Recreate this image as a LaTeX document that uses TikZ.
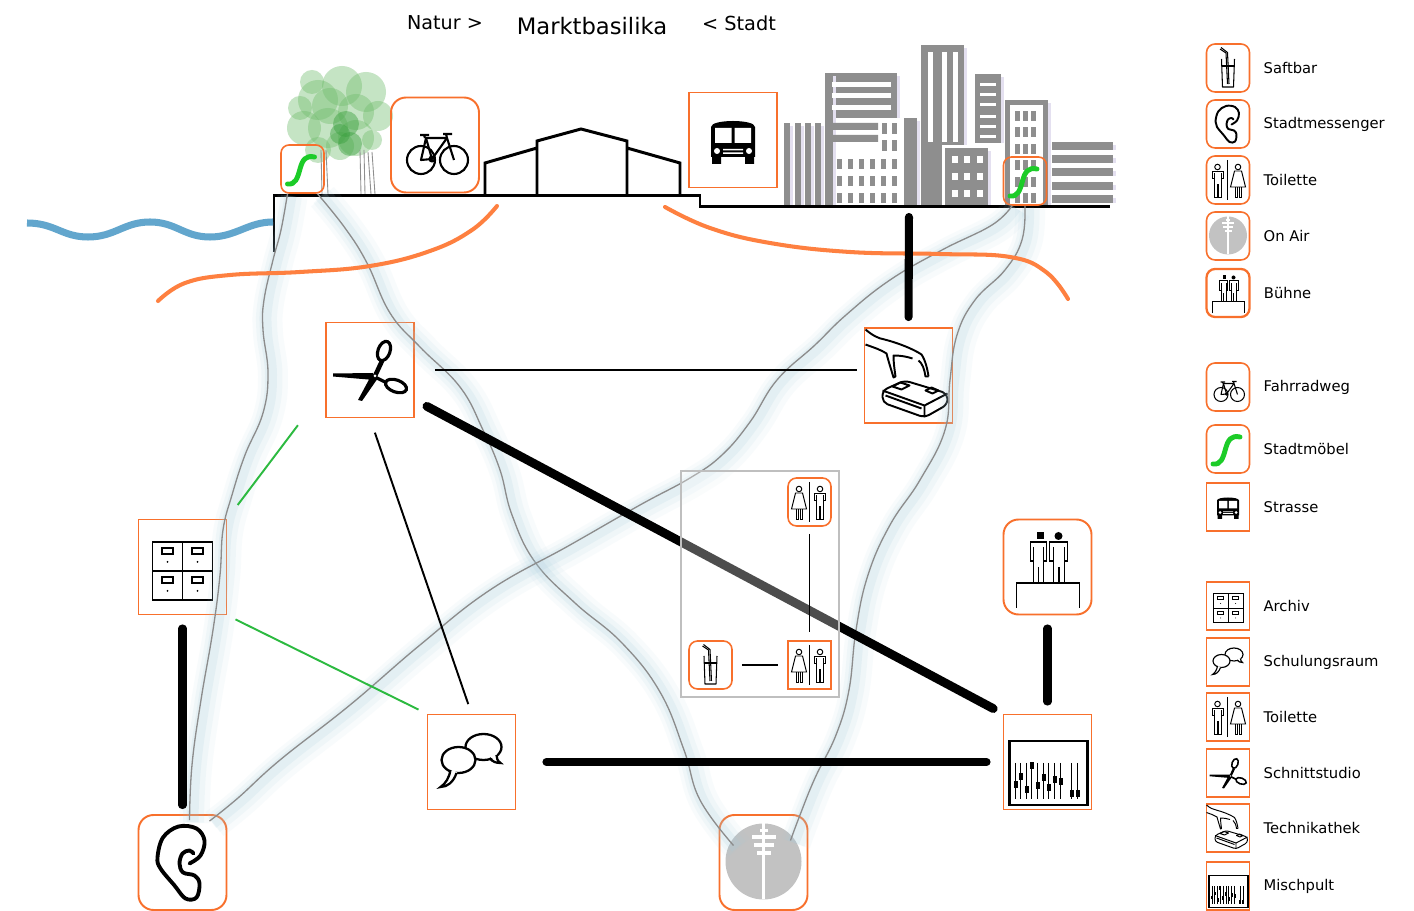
\documentclass[tikz,border=0pt]{standalone}
\usepackage{fontspec}
\setmainfont{DejaVu Sans}
\usetikzlibrary{positioning}

\definecolor{rahmen}{RGB}{248,112,44}
\definecolor{bogen}{RGB}{254,128,64}
\definecolor{fluss}{RGB}{98,166,205}
\definecolor{moebel}{RGB}{28,204,40}
\definecolor{gruen}{RGB}{44,186,64}
\definecolor{haze}{RGB}{168,206,222}
\definecolor{stadt}{RGB}{142,142,142}
\definecolor{stadtsh}{RGB}{228,224,240}
\definecolor{funk}{RGB}{194,194,194}
\definecolor{laub}{RGB}{112,188,108}
\definecolor{laubdunkel}{RGB}{58,160,62}

% pictogram figures, drawn around their own origin
\newcommand{\wcmann}{%
  \draw (0,-26) circle (5.5);
  \draw[fill=white] (-11,-4) -- (-11,-18) -- (11,-18) -- (11,-4) -- (7,-4) -- (7,34)
    -- (1,34) -- (1,8) -- (-1,8) -- (-1,34) -- (-7,34) -- (-7,-4) -- cycle;
  \draw (-7,-13) -- (-7,-4) (7,-13) -- (7,-4);}
\newcommand{\wcfrau}{%
  \draw (0,-26) circle (5.5);
  \draw[fill=white] (-7,-18) -- (7,-18) -- (15,14) -- (-15,14) -- cycle;
  \draw (-6,14) -- (-6,34) -- (-2,34) -- (-2,14) (2,14) -- (2,34) -- (6,34) -- (6,14);}
% one building of the skyline, with its light shadow
\newcommand{\haus}[4]{%
  \fill[stadtsh] (#1+3,#2+3) rectangle (#3+3,#4);
  \fill[stadt] (#1,#2) rectangle (#3,#4);}

% icons, drawn for a 88x95 box; the argument scales them
\tikzset{
  pics/saft/.style={code={
    \begin{scope}[scale=#1, line width=#1*1.2pt, line join=round]
      \draw (-13,-18) -- (-11,38) -- (11,38) -- (13,-18);
      \draw (-12,-4) -- (12,-4);
      \draw (-1,32) -- (-4,-30) -- (-16,-38);
      \draw (2,32) -- (-1,-31) -- (-14,-41);
    \end{scope}}},
  pics/ohr/.style={code={
    \draw[scale=#1, line width=#1*2.2pt, line join=round, line cap=round]
      plot[smooth, tension=0.6] coordinates {(7,1) (18,-7) (22,-22) (14,-34) (-4,-36)
        (-19.5,-25) (-25,-5) (-22,6) (-8,23) (3,36) (14,35) (17,21) (12,13) (0.6,10)
        (-3,1) (0,-9) (7,-12) (11,-9)};}},
  pics/toilette/.style={code={
    \begin{scope}[scale=#1, line width=#1*1.1pt]
      \begin{scope}[shift={(-21,0)}]\wcmann\end{scope}
      \draw (-2,-40) -- (-2,40);
      \begin{scope}[shift={(20,0)}]\wcfrau\end{scope}
    \end{scope}}},
  pics/toilettefm/.style={code={
    \begin{scope}[scale=#1, line width=#1*1.1pt]
      \begin{scope}[shift={(-21,0)}]\wcfrau\end{scope}
      \draw (0,-40) -- (0,40);
      \begin{scope}[shift={(21,0)}]\wcmann\end{scope}
    \end{scope}}},
  pics/onair/.style={code={
    \begin{scope}[scale=#1]
      \fill[funk] (0,-1) circle (38);
      \fill[white] (-1.6,-39) rectangle (1.6,37);
      \fill[white] (-4,-33) rectangle (4,-30);
      \fill[white] (-12,-27) rectangle (12,-23);
      \fill[white] (-10,-19) rectangle (10,-15);
      \fill[white] (-7,-11) rectangle (7,-7);
    \end{scope}}},
  pics/buehne/.style={code={
    \begin{scope}[scale=#1, line width=#1*1.1pt]
      \draw (-31,41) -- (-31,16) -- (32,16) -- (32,41);
      \fill (-11,-35) rectangle (-4,-28);
      \draw[fill=white] (-17,-6) -- (-17,-25) -- (-1,-25) -- (-1,-6) -- (-4,-6) -- (-4,16)
        -- (-14,16) -- (-14,-6) -- cycle;
      \draw (-14,-20) -- (-14,-6) (-4,-20) -- (-4,-6) (-9,0) -- (-9,16);
      \fill (11,-31) circle (4);
      \draw[fill=white] (2,-6) -- (2,-25) -- (20,-25) -- (20,-6) -- (17,-6) -- (17,16)
        -- (6,16) -- (6,-6) -- cycle;
      \draw (6,-20) -- (6,-6) (17,-20) -- (17,-6) (11.5,0) -- (11.5,16);
    \end{scope}}},
  pics/fahrrad/.style={code={
    \begin{scope}[scale=#1, line width=#1*1.2pt, line join=round]
      \draw (-14,15) circle (14) (19,15) circle (14);
      \draw (-14,15) -- (-3,14) -- (-9,-7) -- cycle;
      \draw (-9,-7) -- (12,-7) -- (-3,14);
      \draw (12,-7) -- (19,15);
      \draw (-3,14) circle (2.5);
      \draw (-10,-7) -- (-11,-10) (-15,-10) -- (-6,-10);
      \draw (12,-7) -- (11,-11) (8,-11) -- (17,-11);
    \end{scope}}},
  pics/moebel/.style={code={
    \draw[scale=#1, moebel, line width=#1*5.6pt, line cap=round]
      (-30,30) .. controls (-14,32) and (-10,18) .. (-5,0)
      .. controls (0,-18) and (6,-28) .. (24,-24);}},
  pics/bus/.style={code={
    \begin{scope}[scale=#1]
      \fill (-22,17) -- (-22,-13) .. controls (-22,-21) and (22,-21) .. (22,-13) -- (22,17) -- cycle;
      \fill (-21,16) rectangle (-12,24) (12,16) rectangle (21,24);
      \fill[white] (-18,-12) rectangle (-1.5,3) (1.5,-12) rectangle (18,3);
      \fill[white] (-16,11) circle (3) (16,11) circle (3);
      \fill[white] (-10,9) rectangle (10,10.5) (-10,12.5) rectangle (10,14);
    \end{scope}}},
  pics/archiv/.style={code={
    \begin{scope}[scale=#1, line width=#1*1.1pt]
      \draw (-30,-25) rectangle (30,33);
      \draw (0,-25) -- (0,33) (-30,4) -- (30,4);
      \foreach \dx in {-15,15} \foreach \dy in {-25,4} {
        \draw (\dx-5.5,\dy+6) rectangle (\dx+5.5,\dy+12);
        \fill (\dx,\dy+20) circle (1);
      }
    \end{scope}}},
  pics/sprech/.style={code={
    \begin{scope}[scale=#1, line width=#1*1.3pt]
      \draw[fill=white] (12,-15) ellipse (18 and 13);
      \fill[white] (18,-5) -- (29,1) -- (25,-8) -- cycle;
      \draw (18,-4) .. controls (21,0) and (25,1) .. (29,1) .. controls (26,-1) and (25,-4) .. (25,-7);
      \draw[fill=white] (-13,-2) ellipse (17 and 13);
      \fill[white] (-21,8) -- (-31,25) -- (-14,10) -- cycle;
      \draw (-21,8) .. controls (-22,15) and (-26,22) .. (-31,25) .. controls (-24,25) and (-18,20) .. (-15,11);
    \end{scope}}},
  pics/schere/.style={code={
    \begin{scope}[scale=#1, line width=#1*1.8pt]
      \draw[rotate around={-20:(14,-19)}] (14,-19) ellipse (6 and 10);
      \draw[line width=#1*2.6pt] (12,-9) -- (5,6);
      \fill (2,4) -- (8,8) -- (-8,31) -- (-12,30) -- cycle;
      \fill (-37,3.5) -- (3,3) -- (4,10) -- (-37,6.5) -- cycle;
      \draw (5,7) -- (15,12);
      \draw[rotate around={-20:(26,16)}] (26,16) ellipse (11 and 6);
      \fill[white] (5,6) circle (1.5);
    \end{scope}}},
  pics/technik/.style={code={
    \begin{scope}[scale=#1, line width=#1*1.1pt, line join=round]
      % hand reaching down
      \draw (-43,-46) .. controls (-36,-40) and (-30,-37) .. (-24,-36)
        .. controls (-12,-33) and (4,-27) .. (13,-21) .. controls (17,-15) and (19,-6) .. (20,1);
      \draw (20,1) -- (17,1) .. controls (16,-6) and (14,-12) .. (10,-15);
      \draw (-43,-31) .. controls (-35,-28) and (-28,-26) .. (-22,-22)
        .. controls (-20,-14) and (-17,-5) .. (-15,2) -- (-13,1)
        .. controls (-14,-6) and (-15,-13) .. (-15,-20) .. controls (-8,-20) and (-2,-19) .. (4,-17);
      % device box
      \draw[fill=white, rounded corners=#1*3pt] (-26,15) -- (-4,5) -- (39,18) -- (39,29)
        -- (16,42) -- (-26,27) -- cycle;
      \draw (-26,15) -- (16,30) -- (39,18) (16,30) -- (16,42);
      \draw (-23,20) -- (13,33);
      \draw (-16,11) -- (-8,7) -- (1,10) -- (-7,14) -- cycle;
      \draw (17,15) -- (23,12) -- (30,15) -- (24,18) -- cycle;
    \end{scope}}},
  pics/misch/.style={code={
    \begin{scope}[scale=#1]
      \draw[line width=#1*1.2pt] (-38,-21) rectangle (40,43);
      \foreach \x/\k in {-32/23,-27/15,-21/28,-16/4,-10/24,-4/16,1/26,7/18,13/20,24/32,30/32} {
        \draw[line width=#1*0.8pt] (\x,1) -- (\x,37);
        \fill (\x-2,\k-3.5) rectangle (\x+2,\k+3.5);
      }
    \end{scope}}}
}

\begin{document}
\begin{tikzpicture}[x=0.02cm, y=-0.02cm,
    tafel/.style={draw=rahmen, line width=1.1pt, minimum width=1.76cm,
                  minimum height=1.9cm, inner sep=0pt},
    tafelrund/.style={tafel, rounded corners=0.3cm},
    marke/.style={draw=rahmen, line width=0.9pt, minimum width=0.86cm,
                  minimum height=0.96cm, inner sep=0pt},
    markerund/.style={marke, rounded corners=0.17cm},
    legtext/.style={inner sep=0pt, font=\fontsize{8.4}{10}\selectfont},
    boden/.style={line width=1.7pt},
    faden/.style={line width=1.1pt},
    gruenlinie/.style={draw=gruen, line width=1.1pt},
    balken/.style={line width=4.6pt, line cap=round},
    bogenlinie/.style={draw=bogen, line width=2.3pt, line cap=round},
    route/.style={draw=black!45, line width=0.75pt, line join=round,
                  preaction={draw=haze, line width=0.6cm, opacity=0.07,
                             transform canvas={shift={(0.1cm,-0.06cm)}}},
                  preaction={draw=haze, line width=0.42cm, opacity=0.1,
                             transform canvas={shift={(0.08cm,-0.05cm)}}},
                  preaction={draw=haze, line width=0.24cm, opacity=0.16,
                             transform canvas={shift={(0.06cm,-0.04cm)}}}},
    kasten/.style={draw=black!25, line width=0.6pt, fill=white, fill opacity=0.3}
]
    \fill[white] (0,0) rectangle (1414,911);
    \useasboundingbox (0,0) rectangle (1414,911);

    % heading
    \node[font=\fontsize{10.9}{12}\selectfont] (natur) at (445,23) {Natur >};
    \node[font=\fontsize{12.9}{14}\selectfont] (titel) at (592,26) {Marktbasilika};
    \node[font=\fontsize{11}{12}\selectfont] (stadt) at (739,23) {< Stadt};

    % trees
    \foreach \x/\y/\r in {318/100/20, 342/86/20, 366/92/20, 378/116/15, 304/128/17,
                          328/128/20, 356/138/18, 318/150/13, 300/108/12, 330/106/18,
                          356/112/18, 340/146/14, 312/82/12, 372/140/10}
        \fill[laub, opacity=0.4] (\x,\y) circle (\r);
    \foreach \x/\y/\r in {346/124/13, 350/144/12, 340/134/10}
        \fill[laubdunkel, opacity=0.45] (\x,\y) circle (\r);
    \draw[stadt, line width=0.5pt] (360,150) -- (361,194) (364,150) -- (365,194)
        (368,152) -- (371,194) (372,152) -- (375,194) (321,150) -- (322,194) (326,150) -- (328,194);

    % skyline
    \foreach \x in {784,795,805,815} {\haus{\x}{123}{\x+6}{205}}
    \haus{825}{73}{897}{118}
    \haus{825}{73}{833}{205}
    \foreach \y in {82,93,105} \fill[white] (832,\y) rectangle (891,\y+5);
    \fill[stadt] (833,123) rectangle (878,130) (833,135) rectangle (878,142);
    \foreach \x in {882,892} \foreach \y in {123,140} \fill[stadt] (\x,\y) rectangle (\x+5,\y+11);
    \foreach \x in {837,848,859,870,881,892} \foreach \y in {159,176,193}
        \fill[stadt] (\x,\y) rectangle (\x+5,\y+10);
    \haus{904}{118}{917}{205}
    \haus{921}{45}{964}{205}
    \foreach \x in {928,942,953} \fill[white] (\x,52) rectangle (\x+5,142);
    \fill[white] (942,145) rectangle (991,205);
    \haus{945}{148}{988}{205}
    \foreach \x in {952,964,977} \foreach \y in {156,173,190} \fill[white] (\x,\y) rectangle (\x+6,\y+7);
    \haus{975}{74}{1001}{143}
    \foreach \y in {83,93,103,115,125,135} \fill[white] (980,\y) rectangle (996,\y+3);
    \haus{1005}{100}{1048}{205}
    \fill[white] (1010,105) rectangle (1043,205);
    \foreach \x in {1015,1023,1031} \foreach \y in {111,127,144,160,177,193}
        \fill[stadt] (\x,\y) rectangle (\x+5,\y+10);
    \foreach \y in {142,155,168,182,195} {\haus{1052}{\y}{1113}{\y+8}}

    % ground and market hall
    \draw[boden] (274,252) -- (274,196) -- (700,196) -- (700,207) -- (1110,207);
    \draw[boden] (485,196) -- (485,163) -- (537,148) (537,196) -- (537,141) -- (581,129)
        -- (627,141) -- (627,196) (627,148) -- (680,163) -- (680,196);
    \coordinate (strassenrand) at (909,207);

    % river
    \draw[fluss, line width=4pt] (27,223) .. controls (55,223) and (62,237) .. (88,237)
        .. controls (115,237) and (124,222) .. (150,222) .. controls (176,222) and (184,237) .. (210,237)
        .. controls (236,237) and (248,222) .. (273,222);

    % places on the street
    \node[marke, rounded corners=0.16cm] (moebelL) at (302.5,169) {};
    \pic at (moebelL) {moebel=0.5};
    \node[marke, rounded corners=0.16cm] (moebelR) at (1025,181) {};
    \pic at (moebelR) {moebel=0.5};
    \node[tafelrund] (rad) at (435,145) {};
    \pic at (rad) {fahrrad=1};
    \node[tafel] (bus) at (733,140) {};
    \pic at (bus) {bus=1};

    % rooms
    \node[tafel] (schnitt) at (370,370) {};
    \pic at (schnitt) {schere=1};
    \node[tafel] (technik) at (908.5,375.5) {};
    \pic at (technik) {technik=1};
    \node[tafel] (archiv) at (182.5,567) {};
    \pic at (archiv) {archiv=1};
    \node[tafel] (schulung) at (471.5,762) {};
    \pic at (schulung) {sprech=1};
    \node[tafelrund] (buehne) at (1047.5,567) {};
    \pic at (buehne) {buehne=1};
    \node[tafel] (mischpult) at (1047.5,762) {};
    \pic at (mischpult) {misch=1};
    \node[tafelrund] (ohr) at (182.5,862.5) {};
    \pic at (ohr) {ohr=1};
    \node[tafelrund] (onair) at (763.5,862.5) {};
    \pic at (onair) {onair=1};

    % paths of the messengers
    \draw[route] plot[smooth, tension=0.7] coordinates {([xshift=-0.3cm]moebelL.south)
        (281,230) (273,260) (264,300) (263,330) (268,373) (263,413) (245,455) (232,495)
        (223,530) (220,575) (213,630) (201,700) (192,765) ([xshift=0.14cm, yshift=-0.12cm]ohr.north)};
    \draw[route] plot[smooth, tension=0.7] coordinates {([xshift=0.3cm]moebelL.south)
        (345,228) (367,263) (390,313) (420,347) (460,387) (483,430) (500,470) (512,515)
        (535,562) (575,603) (622,643) (660,692) (684,750) (700,800)
        ([xshift=-0.6cm, yshift=0.34cm]onair.center)};
    \draw[route] plot[smooth, tension=0.7] coordinates {([xshift=-0.26cm]moebelR.south)
        (992,225) (942,250) (890,280) (846,315) (815,345) (777,380) (750,422) (722,455)
        (690,478) (640,505) (570,545) (490,590) (420,645) (350,705) (280,760) (238,798)
        ([xshift=0.54cm, yshift=-0.14cm]ohr.north)};
    \draw[route] plot[smooth, tension=0.7] coordinates {(moebelR.south)
        (1022,240) (1005,270) (975,300) (957,335) (950,380) (945,430) (920,480) (890,525)
        (868,575) (856,630) (849,690) (836,735) (815,778) (800,815)
        ([xshift=0.54cm, yshift=0.44cm]onair.center)};

    % tram line arcs
    \draw[bogenlinie] plot[smooth, tension=0.7] coordinates {(158,301) (185,283) (230,275)
        (300,272) (370,266) (430,251) (472,230) (497,206)};
    \draw[bogenlinie] plot[smooth, tension=0.7] coordinates {(665,207) (710,228) (770,243)
        (850,252) (940,254) (1010,257) (1046,272) (1068,299)};

    % links between the rooms
    \draw[balken, shorten <=0.2cm, shorten >=0.2cm] (strassenrand) -- (technik.north);
    \draw[faden, shorten <=0.4cm, shorten >=0.14cm] (schnitt.east) -- (schnitt.east -| technik.west);
    \draw[faden, shorten <=0.3cm, shorten >=0.2cm] (schnitt.south) -- (schulung.north);
    \draw[balken, line width=5pt, shorten <=1.29cm, shorten >=0.21cm]
        ([yshift=-0.12cm]schnitt.center) -- (mischpult.north west);
    \draw[gruenlinie, shorten <=0.34cm, shorten >=0.17cm] (archiv.north east) -- ([xshift=-0.44cm]schnitt.south west);
    \draw[gruenlinie, shorten <=0.18cm, shorten >=0.18cm] (archiv.south east) -- (schulung.north west);
    \draw[balken, shorten <=0.26cm, shorten >=0.18cm] (archiv.south) -- (ohr.north);
    \draw[balken, shorten <=0.6cm, shorten >=0.32cm] (schulung.east) -- (mischpult.west);
    \draw[balken, shorten <=0.26cm, shorten >=0.24cm] (buehne.south) -- (mischpult.north);

    % service corner
    \draw[kasten] (681,471) rectangle (839,697);
    \node[markerund] (wcoben) at (809.5,502) {};
    \pic at (wcoben) {toilettefm=0.5};
    \node[marke] (wcunten) at (809.5,665) {};
    \pic at (wcunten) {toilettefm=0.5};
    \node[markerund] (saft) at (710.5,665) {};
    \pic at (saft) {saft=0.5};
    \draw[faden, shorten <=0.14cm, shorten >=0.16cm] (wcoben) -- (wcunten);
    \draw[faden, shorten <=0.18cm, shorten >=0.18cm] (saft) -- (wcunten);

    % legend
    \node[markerund] (lsaft) at (1228,68) {};
    \pic at (lsaft) {saft=0.5};
    \node[legtext, right=0.26cm of lsaft] {Saftbar};
    \node[markerund] (lohr) at (1228,124) {};
    \pic at (lohr) {ohr=0.5};
    \node[legtext, right=0.26cm of lohr] {Stadtmessenger};
    \node[markerund] (lwc1) at (1228,180) {};
    \pic at (lwc1) {toilette=0.5};
    \node[legtext, right=0.26cm of lwc1] {Toilette};
    \node[markerund] (lonair) at (1228,236) {};
    \pic at (lonair) {onair=0.5};
    \node[legtext, right=0.26cm of lonair] {On Air};
    \node[markerund, line width=1.3pt] (lbuehne) at (1228,293) {};
    \pic at (lbuehne) {buehne=0.5};
    \node[legtext, right=0.26cm of lbuehne] {Bühne};

    \node[markerund] (lrad) at (1228,387) {};
    \pic at (lrad) {fahrrad=0.5};
    \node[legtext, right=0.26cm of lrad] {Fahrradweg};
    \node[markerund] (lmoebel) at (1228,449) {};
    \pic at (lmoebel) {moebel=0.5};
    \node[legtext, right=0.26cm of lmoebel] {Stadtmöbel};
    \node[marke] (lbus) at (1228,507) {};
    \pic at (lbus) {bus=0.5};
    \node[legtext, right=0.26cm of lbus] {Strasse};

    \node[marke] (larchiv) at (1228,606) {};
    \pic at (larchiv) {archiv=0.5};
    \node[legtext, right=0.26cm of larchiv] {Archiv};
    \node[marke] (lschulung) at (1228,662) {};
    \pic at (lschulung) {sprech=0.5};
    \node[legtext, right=0.26cm of lschulung] {Schulungsraum};
    \node[marke] (lwc2) at (1228,717) {};
    \pic at (lwc2) {toilette=0.5};
    \node[legtext, right=0.26cm of lwc2] {Toilette};
    \node[marke] (lschnitt) at (1228,773) {};
    \pic at (lschnitt) {schere=0.5};
    \node[legtext, right=0.26cm of lschnitt] {Schnittstudio};
    \node[marke] (ltechnik) at (1228,828) {};
    \pic at (ltechnik) {technik=0.5};
    \node[legtext, right=0.26cm of ltechnik] {Technikathek};
    \node[marke] (lmisch) at (1228,886) {};
    \pic at (lmisch) {misch=0.5};
    \node[legtext, right=0.26cm of lmisch] {Mischpult};
\end{tikzpicture}
\end{document}
